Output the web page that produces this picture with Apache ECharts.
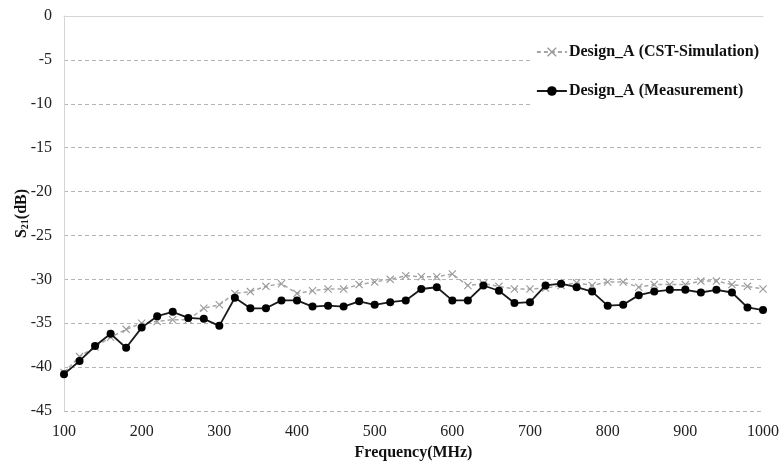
<!DOCTYPE html>
<html>
<head>
<meta charset="utf-8">
<script src="https://cdn.jsdelivr.net/npm/echarts@6/dist/echarts.min.js"></script>
<style>html,body{margin:0;padding:0;background:#fff}#c{width:783px;height:468px}</style>
</head>
<body>
<div id="c"></div>
<script>
const frequencies = [100,120,140,160,180,200,220,240,260,280,300,320,340,360,380,400,420,440,460,480,500,520,540,560,580,600,620,640,660,680,700,720,740,760,780,800,820,840,860,880,900,920,940,960,980,1000];
const simulation = [-40.6,-38.8,-37.7,-36.6,-35.7,-35.0,-34.8,-34.6,-34.6,-33.3,-32.9,-31.6,-31.4,-30.8,-30.5,-31.6,-31.3,-31.1,-31.1,-30.6,-30.3,-30.0,-29.6,-29.7,-29.7,-29.4,-30.7,-30.5,-30.8,-31.1,-31.1,-31.0,-30.7,-30.4,-30.7,-30.3,-30.3,-30.9,-30.6,-30.6,-30.6,-30.2,-30.2,-30.6,-30.8,-31.1];
const measurement = [-40.8,-39.3,-37.6,-36.2,-37.8,-35.5,-34.2,-33.7,-34.4,-34.5,-35.3,-32.1,-33.3,-33.3,-32.4,-32.4,-33.1,-33.0,-33.1,-32.5,-32.9,-32.6,-32.4,-31.1,-30.9,-32.4,-32.4,-30.7,-31.3,-32.7,-32.6,-30.7,-30.5,-30.9,-31.4,-33.0,-32.9,-31.8,-31.4,-31.2,-31.2,-31.5,-31.2,-31.5,-33.2,-33.5];
const yTicks = [0,-5,-10,-15,-20,-25,-30,-35,-40,-45];
const xTicks = [100,200,300,400,500,600,700,800,900,1000];
const seriesNames = ['Design_A (CST-Simulation)','Design_A (Measurement)'];

const serif = '"Liberation Serif","DejaVu Serif",serif';
const crossPath = 'path://M0,1L1,0L5,4L9,0L10,1L6,5L10,9L9,10L5,6L1,10L0,9L4,5Z';

const chart = echarts.init(document.getElementById('c'), null, {renderer:'canvas'});
chart.setOption({
  animation:false,
  backgroundColor:'#fff',
  grid:{left:64,right:20,top:16,bottom:57,containLabel:false},
  legend:{
    orient:'vertical',
    right:18,
    top:38,
    itemGap:23,
    itemWidth:30,
    itemHeight:12,
    backgroundColor:'#fff',
    padding:[6,6,10,4],
    textStyle:{fontFamily:serif,fontWeight:'bold',fontSize:16,color:'#111',padding:[0,0,0,-3]},
    data:seriesNames
  },
  xAxis:{
    type:'value',min:xTicks[0],max:xTicks[xTicks.length-1],interval:100,
    name:'Frequency(MHz)',nameLocation:'middle',nameGap:33,
    nameTextStyle:{fontFamily:serif,fontWeight:'bold',fontSize:16,color:'#111'},
    axisLine:{show:true,lineStyle:{color:'#d4d4d4',width:1}},
    axisTick:{show:false},
    axisLabel:{fontFamily:serif,fontSize:16,color:'#222',margin:13,formatter:v=>String(v)},
    splitLine:{show:false}
  },
  yAxis:{
    type:'value',min:yTicks[yTicks.length-1],max:yTicks[0],interval:5,
    name:'{b|S}{sub|21}{b|(dB)}',nameLocation:'middle',nameGap:34,nameRotate:90,
    nameMoveOverlap:false,
    nameTextStyle:{
      rich:{
        b:{fontFamily:serif,fontWeight:'bold',fontSize:16,color:'#111'},
        sub:{fontFamily:serif,fontWeight:'bold',fontSize:10,color:'#111',padding:[7,0,0,0]}
      }
    },
    axisLine:{show:true,lineStyle:{color:'#d4d4d4',width:1}},
    axisTick:{show:false},
    axisLabel:{fontFamily:serif,fontSize:16,color:'#222',margin:12},
    splitLine:{show:true,lineStyle:{color:'#b4b4b4',type:[4,3],width:1}}
  },
  series:[
    {
      name:seriesNames[0],type:'line',
      data:frequencies.map((f,i)=>[f,simulation[i]]),
      symbol:crossPath,symbolSize:8,
      lineStyle:{color:'#a6a6a6',width:1.5,type:[4,3]},
      itemStyle:{color:'#9a9a9a'},
      z:2
    },
    {
      name:seriesNames[1],type:'line',
      data:frequencies.map((f,i)=>[f,measurement[i]]),
      symbol:'circle',symbolSize:8,
      lineStyle:{color:'#1a1a1a',width:1.8},
      itemStyle:{color:'#000'},
      z:3
    }
  ]
});
</script>
</body>
</html>
